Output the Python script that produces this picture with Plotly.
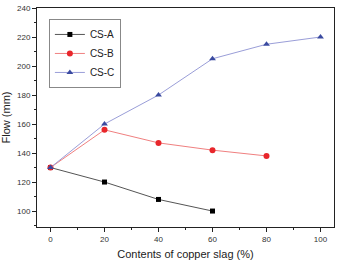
import plotly.graph_objects as go

x_a = [0, 20, 40, 60]
y_a = [130, 120, 108, 100]
x_b = [0, 20, 40, 60, 80]
y_b = [130, 156, 147, 142, 138]
x_c = [0, 20, 40, 60, 80, 100]
y_c = [130, 160, 180, 205, 215, 220]

fig = go.Figure()
fig.add_trace(go.Scatter(x=x_a, y=y_a, name="CS-A", mode="lines+markers",
                         line=dict(color="#555555", width=1),
                         marker=dict(symbol="square", size=5, color="#000000")))
fig.add_trace(go.Scatter(x=x_b, y=y_b, name="CS-B", mode="lines+markers",
                         line=dict(color="#f08080", width=1),
                         marker=dict(symbol="circle", size=6, color="#e8262b")))
fig.add_trace(go.Scatter(x=x_c, y=y_c, name="CS-C", mode="lines+markers",
                         line=dict(color="#9a9ed8", width=1),
                         marker=dict(symbol="triangle-up", size=6, color="#3a4aa0")))

fig.update_layout(
    width=338, height=261,
    margin=dict(l=37, r=3, t=8, b=32),
    paper_bgcolor="white", plot_bgcolor="white",
    font=dict(family="Liberation Sans, Arial, sans-serif", color="#333333", size=8),
    showlegend=True,
    legend=dict(x=0.04, y=0.95, xanchor="left", yanchor="top",
                bordercolor="#888888", borderwidth=1, bgcolor="white",
                font=dict(size=10, color="#222222"),
                tracegroupgap=0, itemwidth=30),
    xaxis=dict(range=[-5, 105], tickvals=[0, 20, 40, 60, 80, 100],
               showgrid=False, zeroline=False, showline=True, linecolor="#222222",
               linewidth=1, mirror=True, ticks="outside", ticklen=4, tickcolor="#222222",
               minor=dict(ticks="outside", ticklen=2, dtick=10, tickcolor="#222222"),
               title=dict(text="Contents of copper slag (%)", font=dict(size=11, color="#222222"), standoff=7)),
    yaxis=dict(range=[89, 240], tickvals=[100, 120, 140, 160, 180, 200, 220, 240],
               showgrid=False, zeroline=False, showline=True, linecolor="#222222",
               linewidth=1, mirror=True, ticks="outside", ticklen=4, tickcolor="#222222",
               minor=dict(ticks="outside", ticklen=2, dtick=10, tickcolor="#222222"),
               title=dict(text="Flow (mm)", font=dict(size=11, color="#222222"), standoff=5)),
)

fig.write_html("out.html")
